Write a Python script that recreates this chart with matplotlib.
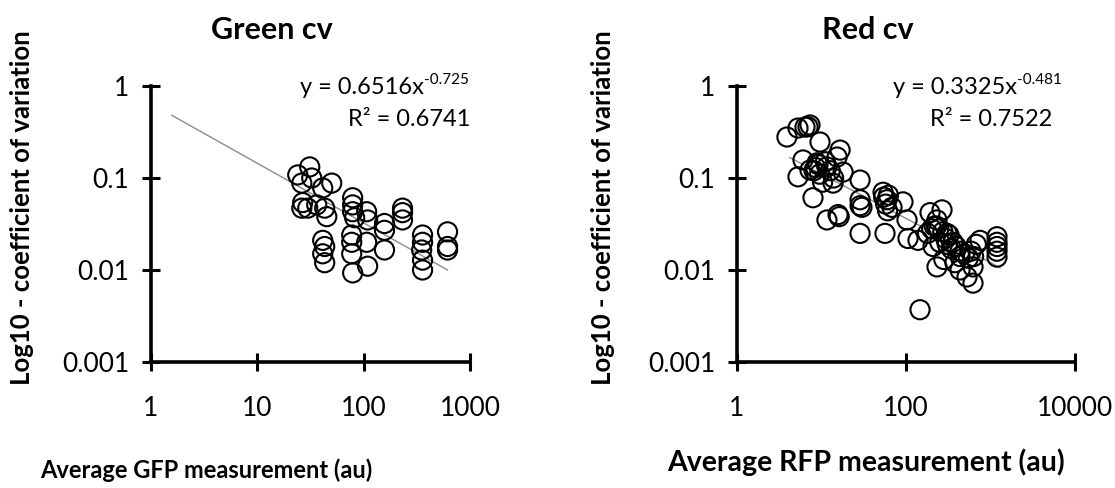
import matplotlib
matplotlib.use("Agg")
import matplotlib.pyplot as plt
from matplotlib.ticker import FixedLocator, FixedFormatter, NullLocator

plt.rcParams['font.family'] = ['Lato', 'DejaVu Sans']

# green (GFP) panel data
green_x = [31.1, 24.0, 26.2, 32.5, 41.2, 50.1, 26.7, 29.8, 26.2, 43.0, 45.0, 36.2,
           78.8, 78.8, 78.8, 82.3, 106.7, 109, 41.2, 43.0, 43.0, 77.2, 77.2, 77.2,
           78.8, 106.7, 109, 41.2, 157, 157, 157, 232, 232, 232, 358, 358, 351,
           358, 358, 615, 615, 615]
green_y = [0.132, 0.108, 0.088, 0.100, 0.078, 0.088, 0.054, 0.047, 0.047, 0.047, 0.038, 0.051,
           0.061, 0.051, 0.043, 0.037, 0.043, 0.035, 0.021, 0.018, 0.012, 0.024, 0.020, 0.015,
           0.0093, 0.020, 0.011, 0.015, 0.032, 0.027, 0.0165, 0.047, 0.042, 0.035, 0.024, 0.020, 0.0165,
           0.0128, 0.0100, 0.026, 0.018, 0.0165]
green_fit_x = [1.57, 615]
green_fit_y = [0.48, 0.0100]

# red (RFP) panel data
red_x = [3.9, 5.27, 6.38, 7.31, 6.92, 9.6,
         5.27, 6.04, 7.31, 8.85, 11.6, 15.3, 16.6, 18.0, 13.7, 7.93, 11.6, 15.7, 16.2,
         8.5, 9.5, 11.1, 12.7, 10.3, 13.9, 9.1, 8.15,
         28.6, 28.6, 28.6, 30.1, 28.6,
         53.5, 59.6, 68.3, 56.4, 54.5, 62.0, 57.5, 60.6,
         92.1, 102.8, 105.6, 138.7,
         192.4, 266.9, 232.8, 208.9, 232.8, 305.7, 359.7, 435.5, 435.5, 527.2, 620.9, 620.9, 751.4,
         1194, 1194, 1194, 1194, 1194,
         146.5,
         216, 244, 273, 294, 323, 251, 344, 393, 436, 491, 230, 201, 180, 308, 280, 379, 547, 589, 679, 631]
red_y = [0.279, 0.349, 0.358, 0.377, 0.36, 0.246,
         0.103, 0.157, 0.122, 0.146, 0.132, 0.169, 0.201, 0.116, 0.088, 0.061, 0.035, 0.040, 0.038,
         0.13, 0.11, 0.15, 0.12, 0.09, 0.10, 0.14, 0.12,
         0.095, 0.058, 0.050, 0.048, 0.025,
         0.070, 0.058, 0.048, 0.025, 0.062, 0.065, 0.052, 0.044,
         0.055, 0.035, 0.022, 0.021,
         0.042, 0.045, 0.035, 0.018, 0.0108, 0.025, 0.020, 0.014, 0.010, 0.0084, 0.0072, 0.0108, 0.021,
         0.023, 0.018, 0.0138, 0.016, 0.020,
         0.0037,
         0.030, 0.028, 0.026, 0.022, 0.024, 0.020, 0.017, 0.018, 0.016, 0.015, 0.030, 0.028, 0.025,
         0.019, 0.013, 0.012, 0.0135, 0.016, 0.019, 0.014]
red_fit_x = [4.2, 1300]
red_fit_y = [0.167, 0.0106]

fig = plt.figure(figsize=(11.15, 4.88), dpi=100)
ax1 = fig.add_axes([151 / 1115, 0.2582, 319 / 1115, 0.5656])
ax2 = fig.add_axes([737 / 1115, 0.2582, 338 / 1115, 0.5656])


def style(ax, xmax, xticks, xlabels):
    ax.set_xscale('log')
    ax.set_yscale('log')
    ax.set_xlim(1, xmax)
    ax.set_ylim(0.001, 1)
    ax.spines['top'].set_visible(False)
    ax.spines['right'].set_visible(False)
    for s in ('left', 'bottom'):
        ax.spines[s].set_linewidth(2.6)
    ax.xaxis.set_major_locator(FixedLocator(xticks))
    ax.xaxis.set_major_formatter(FixedFormatter(xlabels))
    ax.xaxis.set_minor_locator(NullLocator())
    ax.yaxis.set_major_locator(FixedLocator([0.001, 0.01, 0.1, 1]))
    ax.yaxis.set_major_formatter(FixedFormatter(['0.001', '0.01', '0.1', '1']))
    ax.yaxis.set_minor_locator(NullLocator())
    ax.tick_params(which='major', direction='inout', length=13, width=2.2,
                   labelsize=19, pad=9, colors='black')
    ax.tick_params(axis='x', pad=18)
    ax.set_facecolor('none')


style(ax1, 1000, [1, 10, 100, 1000], ['1', '10', '100', '1000'])
style(ax2, 10000, [1, 100, 10000], ['1', '100', '10000'])

ax1.plot(green_fit_x, green_fit_y, color='#8c8c8c', lw=1.0, zorder=2)
ax1.scatter(green_x, green_y, s=190, facecolors='none', edgecolors='black', linewidths=1.5, zorder=3, clip_on=False)
ax2.plot(red_fit_x, red_fit_y, color='#8c8c8c', lw=1.0, zorder=2)
ax2.scatter(red_x, red_y, s=190, facecolors='none', edgecolors='black', linewidths=1.5, zorder=3, clip_on=False)

# titles
fig.text(272 / 1115, 1 - 30 / 488, 'Green cv', ha='center', va='center', fontsize=22, fontweight='bold')
fig.text(868 / 1115, 1 - 30 / 488, 'Red cv', ha='center', va='center', fontsize=22, fontweight='bold')

# trend equations, exponent as a small text right after the base
eqs = [(300, 'y = 0.6516x', '-0.725', 470, 'R² = 0.6741'),
       (893, 'y = 0.3325x', '-0.481', 1052, 'R² = 0.7522')]
for x0, base, sup, xr, r2 in eqs:
    t = fig.text(x0 / 1115, 1 - 88 / 488, base, ha='left', va='center', fontsize=17)
    fig.add_artist(plt.Annotation(sup, xy=(1.0, 0.55), xycoords=t, ha='left', va='bottom', fontsize=11))
    fig.text(xr / 1115, 1 - 120 / 488, r2, ha='right', va='center', fontsize=17)

# axis labels
ylab = 'Log10 - coefficient of variation'
fig.text(22 / 1115, 1 - 208 / 488, ylab, rotation=90, ha='center', va='center', fontsize=18.5, fontweight='bold')
fig.text(603 / 1115, 1 - 208 / 488, ylab, rotation=90, ha='center', va='center', fontsize=18.5, fontweight='bold')
fig.text(206 / 1115, 1 - 470 / 488, 'Average GFP measurement (au)', ha='center', va='center', fontsize=17, fontweight='bold')
fig.text(866 / 1115, 1 - 462 / 488, 'Average RFP measurement (au)', ha='center', va='center', fontsize=20.5, fontweight='bold')

fig.savefig('out.png', dpi=100, facecolor='white')
